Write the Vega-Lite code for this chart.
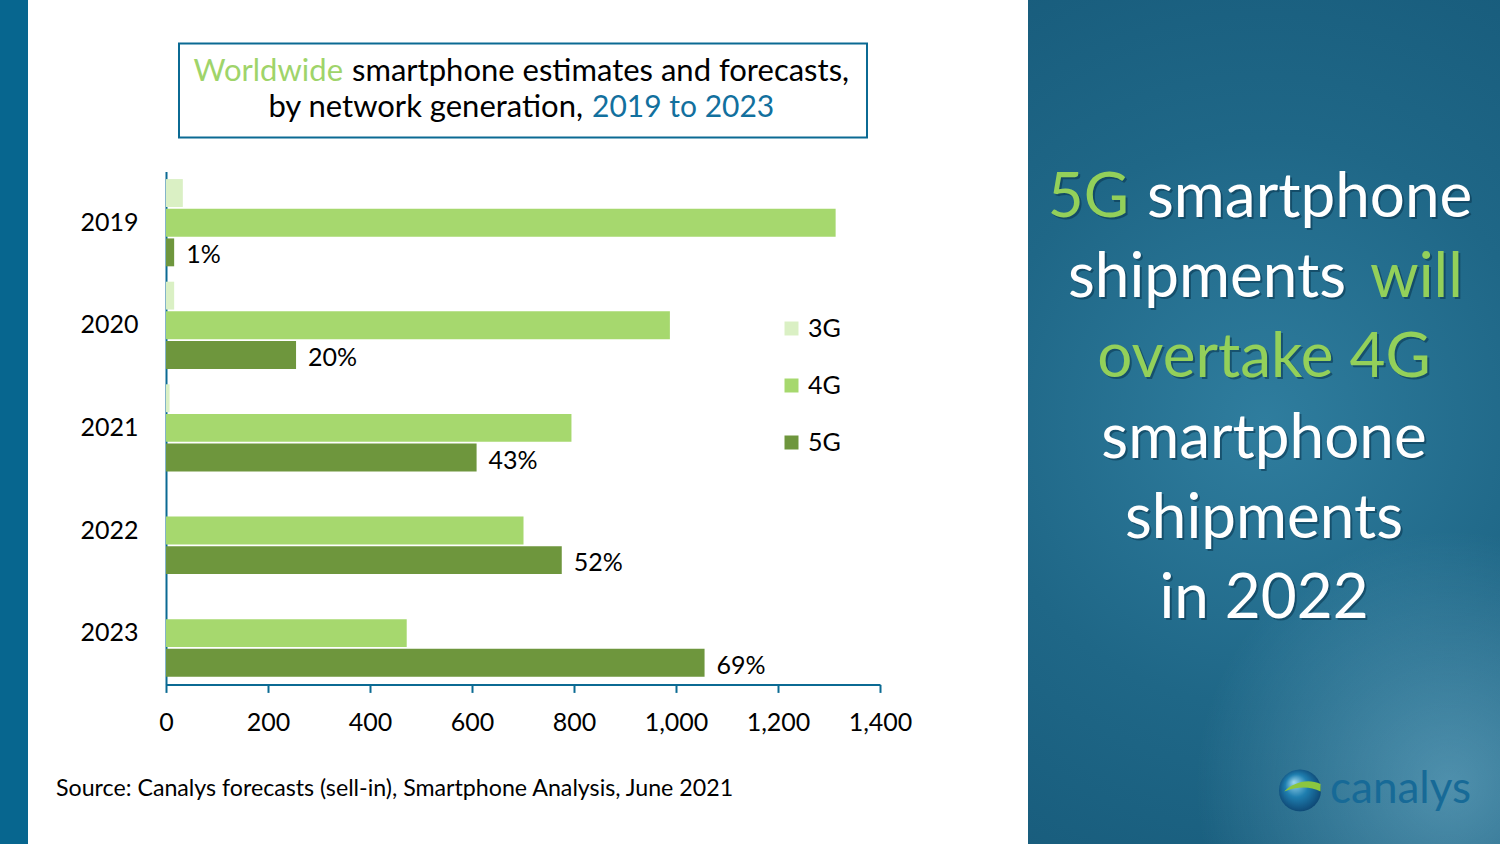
{
  "$schema": "https://vega.github.io/schema/vega-lite/v6.json",
  "background": "#ffffff",
  "padding": 0,
  "spacing": 28,
  "center": true,
  "config": {
    "view": {"stroke": null},
    "font": "Lato"
  },
  "hconcat": [
    {
      "width": 28,
      "height": 844,
      "data": {"values": [{"panel": "edge"}]},
      "mark": {"type": "rect", "color": "#07668f"}
    },
    {
      "spacing": 116,
      "center": true,
      "hconcat": [
        {
          "spacing": 34,
          "bounds": "flush",
          "center": true,
          "vconcat": [
            {
              "width": 688,
              "height": 94,
              "view": {"stroke": "#0b6a93", "strokeWidth": 2},
              "data": {
                "values": [
                  {"piece": "a", "text": "Worldwide"},
                  {"piece": "b", "text": "smartphone  estimates and forecasts,"},
                  {"piece": "c", "text": "by network generation,"},
                  {"piece": "d", "text": "2019 to 2023"}
                ]
              },
              "encoding": {"text": {"field": "text", "type": "nominal"}},
              "layer": [
                {
                  "transform": [{"filter": "datum.piece === 'a'"}],
                  "mark": {"type": "text", "align": "right", "baseline": "alphabetic", "dx": -180, "dy": -9, "fontSize": 31, "color": "#9fd46a"}
                },
                {
                  "transform": [{"filter": "datum.piece === 'b'"}],
                  "mark": {"type": "text", "align": "left", "baseline": "alphabetic", "dx": -171, "dy": -9, "fontSize": 31, "color": "#000000"}
                },
                {
                  "transform": [{"filter": "datum.piece === 'c'"}],
                  "mark": {"type": "text", "align": "right", "baseline": "alphabetic", "dx": 60, "dy": 27, "fontSize": 31, "color": "#000000"}
                },
                {
                  "transform": [{"filter": "datum.piece === 'd'"}],
                  "mark": {"type": "text", "align": "left", "baseline": "alphabetic", "dx": 69, "dy": 27, "fontSize": 30, "color": "#12709e"}
                }
              ]
            },
            {
              "width": 714,
              "height": 513,
              "title": {
                "text": "Source: Canalys forecasts (sell-in), Smartphone Analysis, June 2021",
                "orient": "bottom",
                "anchor": "start",
                "frame": "group",
                "dx": -110,
                "offset": 43,
                "fontSize": 23.2,
                "fontWeight": "normal",
                "font": "Lato",
                "color": "#000000"
              },
              "data": {
                "values": [
                  {"year": "2019", "gen": "3G", "value": 33, "pct": ""},
                  {"year": "2019", "gen": "4G", "value": 1313, "pct": ""},
                  {"year": "2019", "gen": "5G", "value": 16, "pct": "1%"},
                  {"year": "2020", "gen": "3G", "value": 16, "pct": ""},
                  {"year": "2020", "gen": "4G", "value": 988, "pct": ""},
                  {"year": "2020", "gen": "5G", "value": 255, "pct": "20%"},
                  {"year": "2021", "gen": "3G", "value": 7, "pct": ""},
                  {"year": "2021", "gen": "4G", "value": 795, "pct": ""},
                  {"year": "2021", "gen": "5G", "value": 609, "pct": "43%"},
                  {"year": "2022", "gen": "4G", "value": 701, "pct": ""},
                  {"year": "2022", "gen": "5G", "value": 776, "pct": "52%"},
                  {"year": "2023", "gen": "4G", "value": 472, "pct": ""},
                  {"year": "2023", "gen": "5G", "value": 1056, "pct": "69%"}
                ]
              },
              "encoding": {
                "y": {
                  "field": "year",
                  "type": "nominal",
                  "title": null,
                  "scale": {"paddingInner": 0.15, "paddingOuter": 0.075},
                  "axis": {
                    "ticks": false,
                    "domainColor": "#0b6a93",
                    "domainWidth": 2,
                    "labelFontSize": 25,
                    "labelFont": "Lato",
                    "labelColor": "#000000",
                    "labelPadding": 28
                  }
                },
                "yOffset": {
                  "field": "gen",
                  "type": "nominal",
                  "scale": {"domain": ["3G", "4G", "5G"], "paddingInner": 0.06, "paddingOuter": 0}
                },
                "x": {
                  "field": "value",
                  "type": "quantitative",
                  "title": null,
                  "scale": {"domain": [0, 1400]},
                  "axis": {
                    "values": [0, 200, 400, 600, 800, 1000, 1200, 1400],
                    "format": ",d",
                    "grid": false,
                    "domainColor": "#0b6a93",
                    "domainWidth": 2,
                    "tickColor": "#0b6a93",
                    "tickWidth": 2,
                    "tickSize": 8,
                    "labelFontSize": 25,
                    "labelFont": "Lato",
                    "labelColor": "#000000",
                    "labelPadding": 18,
                    "labelFlush": false
                  }
                }
              },
              "layer": [
                {
                  "mark": {"type": "bar"},
                  "encoding": {
                    "color": {
                      "field": "gen",
                      "type": "nominal",
                      "scale": {"domain": ["3G", "4G", "5G"], "range": ["#daf0c4", "#a6d86e", "#6e963d"]},
                      "legend": {
                        "title": null,
                        "orient": "none",
                        "legendX": 779,
                        "legendY": 316,
                        "padding": 0,
                        "symbolType": "square",
                        "symbolSize": 196,
                        "symbolStrokeWidth": 0,
                        "labelFontSize": 25,
                        "labelFont": "Lato",
                        "labelColor": "#000000",
                        "labelOffset": 4,
                        "rowPadding": 31
                      }
                    }
                  }
                },
                {
                  "transform": [{"filter": "datum.gen === '5G'"}],
                  "mark": {"type": "text", "align": "left", "baseline": "middle", "dx": 12, "dy": 3, "fontSize": 25, "font": "Lato", "color": "#000000"},
                  "encoding": {"text": {"field": "pct", "type": "nominal"}}
                }
              ]
            }
          ]
        },
        {
          "width": 472,
          "height": 844,
          "layer": [
            {
              "data": {"values": [{"panel": "backdrop"}]},
              "mark": {
                "type": "rect",
                "color": {
                  "gradient": "radial",
                  "x1": 0.5, "y1": 0.5, "r1": 0,
                  "x2": 0.5, "y2": 0.5, "r2": 0.75,
                  "stops": [
                    {"offset": 0, "color": "#2f7d9e"},
                    {"offset": 0.45, "color": "#1f6787"},
                    {"offset": 1, "color": "#145676"}
                  ]
                }
              }
            },
            {
              "data": {"values": [{"panel": "halo"}]},
              "mark": {
                "type": "rect",
                "color": {
                  "gradient": "radial",
                  "x1": 0.72, "y1": 0.93, "r1": 0,
                  "x2": 0.72, "y2": 0.93, "r2": 0.3,
                  "stops": [
                    {"offset": 0, "color": "rgba(130,190,215,0.5)"},
                    {"offset": 1, "color": "rgba(130,190,215,0)"}
                  ]
                }
              }
            },
            {
              "data": {
                "values": [
                  {"line": 1, "piece": "1a", "text": "5G"},
                  {"line": 1, "piece": "1b", "text": "smartphone"},
                  {"line": 2, "piece": "2a", "text": "shipments"},
                  {"line": 2, "piece": "2b", "text": "will"},
                  {"line": 3, "piece": "3", "text": "overtake 4G"},
                  {"line": 4, "piece": "4", "text": "smartphone"},
                  {"line": 5, "piece": "5", "text": "shipments"},
                  {"line": 6, "piece": "6", "text": "in 2022"},
                  {"line": 8, "piece": "logo", "text": "canalys"}
                ]
              },
              "encoding": {
                "y": {
                  "field": "line",
                  "type": "quantitative",
                  "axis": null,
                  "scale": {"domain": [-1.706, 8.818], "reverse": true, "nice": false, "zero": false}
                },
                "text": {"field": "text", "type": "nominal"}
              },
              "layer": [
                {
                  "transform": [{"filter": "datum.piece === '1a'"}],
                  "mark": {"type": "text", "align": "right", "baseline": "alphabetic", "dx": -133, "dy": 2, "fontSize": 62, "color": "#08344d", "opacity": 0.55}
                },
                {
                  "transform": [{"filter": "datum.piece === '1b'"}],
                  "mark": {"type": "text", "align": "left", "baseline": "alphabetic", "dx": -115, "dy": 2, "fontSize": 62, "color": "#08344d", "opacity": 0.55}
                },
                {
                  "transform": [{"filter": "datum.piece === '2a'"}],
                  "mark": {"type": "text", "align": "right", "baseline": "alphabetic", "dx": 84, "dy": 2, "fontSize": 62, "color": "#08344d", "opacity": 0.55}
                },
                {
                  "transform": [{"filter": "datum.piece === '2b'"}],
                  "mark": {"type": "text", "align": "left", "baseline": "alphabetic", "dx": 108, "dy": 2, "fontSize": 62, "color": "#08344d", "opacity": 0.55}
                },
                {
                  "transform": [{"filter": "datum.piece === '3' || datum.piece === '4' || datum.piece === '5' || datum.piece === '6'"}],
                  "mark": {"type": "text", "align": "center", "baseline": "alphabetic", "dx": 2, "dy": 2, "fontSize": 62, "color": "#08344d", "opacity": 0.55}
                },
                {
                  "transform": [{"filter": "datum.piece === '1a'"}],
                  "mark": {"type": "text", "align": "right", "baseline": "alphabetic", "dx": -135, "fontSize": 62, "color": "#93d05a"}
                },
                {
                  "transform": [{"filter": "datum.piece === '1b'"}],
                  "mark": {"type": "text", "align": "left", "baseline": "alphabetic", "dx": -117, "fontSize": 62, "color": "#ffffff"}
                },
                {
                  "transform": [{"filter": "datum.piece === '2a'"}],
                  "mark": {"type": "text", "align": "right", "baseline": "alphabetic", "dx": 82, "fontSize": 62, "color": "#ffffff"}
                },
                {
                  "transform": [{"filter": "datum.piece === '2b'"}],
                  "mark": {"type": "text", "align": "left", "baseline": "alphabetic", "dx": 106, "fontSize": 62, "color": "#93d05a"}
                },
                {
                  "transform": [{"filter": "datum.piece === '3'"}],
                  "mark": {"type": "text", "align": "center", "baseline": "alphabetic", "fontSize": 62, "color": "#93d05a"}
                },
                {
                  "transform": [{"filter": "datum.piece === '4' || datum.piece === '5' || datum.piece === '6'"}],
                  "mark": {"type": "text", "align": "center", "baseline": "alphabetic", "fontSize": 62, "color": "#ffffff"}
                },
                {
                  "transform": [{"filter": "datum.piece === 'logo'"}],
                  "mark": {"type": "text", "align": "left", "baseline": "alphabetic", "dx": 66, "dy": 25, "fontSize": 44, "color": "#176a97"}
                },
                {
                  "transform": [{"filter": "datum.piece === 'logo'"}],
                  "mark": {
                    "type": "point",
                    "shape": "circle",
                    "filled": true,
                    "size": 1764,
                    "opacity": 1,
                    "xOffset": 36,
                    "yOffset": 12,
                    "color": {
                      "gradient": "radial",
                      "x1": 0.35, "y1": 0.3, "r1": 0,
                      "x2": 0.5, "y2": 0.5, "r2": 0.6,
                      "stops": [
                        {"offset": 0, "color": "#9fd8ee"},
                        {"offset": 0.45, "color": "#1f7fb0"},
                        {"offset": 1, "color": "#0a3a66"}
                      ]
                    }
                  }
                },
                {
                  "transform": [{"filter": "datum.piece === 'logo'"}],
                  "mark": {
                    "type": "point",
                    "shape": "M-0.75,0.05 C-0.35,-0.35 0.35,-0.6 0.98,-0.3 L0.98,0.05 C0.45,-0.22 -0.15,-0.18 -0.75,0.05 Z",
                    "filled": true,
                    "size": 1764,
                    "opacity": 1,
                    "xOffset": 36,
                    "yOffset": 12,
                    "color": "#8cc63f"
                  }
                }
              ]
            }
          ]
        }
      ]
    }
  ]
}
